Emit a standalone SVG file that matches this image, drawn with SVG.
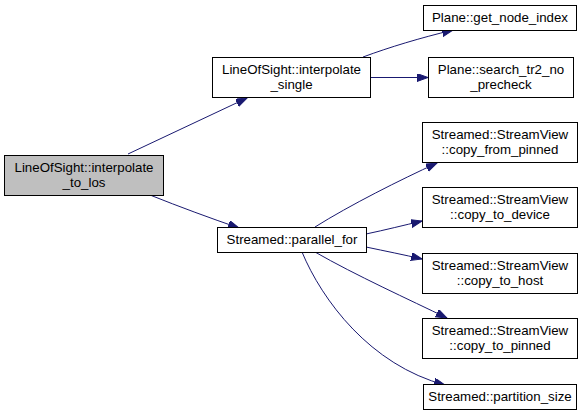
<svg xmlns="http://www.w3.org/2000/svg" width="587" height="416" viewBox="0 0 587 416">
<defs>
<style>
.n rect{fill:#fff;stroke:#000;stroke-width:1}
.n.root rect{fill:#bfbfbf}
.n text{font-family:"Liberation Sans",Arial,sans-serif;font-size:13.3px;fill:#000;text-anchor:middle}
.e path{fill:none;stroke:#191970;stroke-width:1}
</style>
<marker id="ah" markerUnits="userSpaceOnUse" markerWidth="13" markerHeight="10" refX="11" refY="4" orient="auto">
<path d="M0,0 L11,4 L0,8 z" fill="#191970" stroke="#191970" stroke-width="1"/>
</marker>
</defs>
<rect width="587" height="416" fill="#fff"/>
<g id="edges" class="e">
<path d="M128,154 L247,98" marker-end="url(#ah)"/>
<path d="M150,195 C180,207 210,218 239,228" marker-end="url(#ah)"/>
<path d="M363,57 C390,47 420,38 453,30" marker-end="url(#ah)"/>
<path d="M370,77.5 L428,77.5" marker-end="url(#ah)"/>
<path d="M315,227 C350,205 400,180 437,163" marker-end="url(#ah)"/>
<path d="M366,234 C385,230 405,225 422,221" marker-end="url(#ah)"/>
<path d="M366,247 C385,251 405,255 422,259" marker-end="url(#ah)"/>
<path d="M315,252 C355,275 410,300 447,318" marker-end="url(#ah)"/>
<path d="M302,252 C322,300 370,365 445,385" marker-end="url(#ah)"/>
</g>
<g id="node-root" class="n root">
<rect x="4.5" y="155.5" width="159" height="40"/>
<text x="84" y="171.5">LineOfSight::interpolate</text>
<text x="84" y="186.5">_to_los</text>
</g>
<g id="node-interpolate-single" class="n">
<rect x="212.5" y="57.5" width="158" height="40"/>
<text x="291.5" y="73.5">LineOfSight::interpolate</text>
<text x="291.5" y="88.5">_single</text>
</g>
<g id="node-parallel-for" class="n">
<rect x="217.5" y="227.5" width="149" height="25"/>
<text x="292" y="244">Streamed::parallel_for</text>
</g>
<g id="node-get-node-index" class="n">
<rect x="423.5" y="5.5" width="153" height="25"/>
<text x="500" y="22">Plane::get_node_index</text>
</g>
<g id="node-search-tr2" class="n">
<rect x="428.5" y="57.5" width="145" height="40"/>
<text x="501" y="73.5">Plane::search_tr2_no</text>
<text x="501" y="88.5">_precheck</text>
</g>
<g id="node-copy-from-pinned" class="n">
<rect x="422.5" y="122.5" width="155" height="40"/>
<text x="500" y="138.5">Streamed::StreamView</text>
<text x="500" y="153.5">::copy_from_pinned</text>
</g>
<g id="node-copy-to-device" class="n">
<rect x="422.5" y="187.5" width="155" height="40"/>
<text x="500" y="203.5">Streamed::StreamView</text>
<text x="500" y="218.5">::copy_to_device</text>
</g>
<g id="node-copy-to-host" class="n">
<rect x="422.5" y="253.5" width="155" height="40"/>
<text x="500" y="269.5">Streamed::StreamView</text>
<text x="500" y="284.5">::copy_to_host</text>
</g>
<g id="node-copy-to-pinned" class="n">
<rect x="422.5" y="318.5" width="155" height="40"/>
<text x="500" y="334.5">Streamed::StreamView</text>
<text x="500" y="349.5">::copy_to_pinned</text>
</g>
<g id="node-partition-size" class="n">
<rect x="423.5" y="384.5" width="153" height="25"/>
<text x="500" y="401">Streamed::partition_size</text>
</g>
</svg>
